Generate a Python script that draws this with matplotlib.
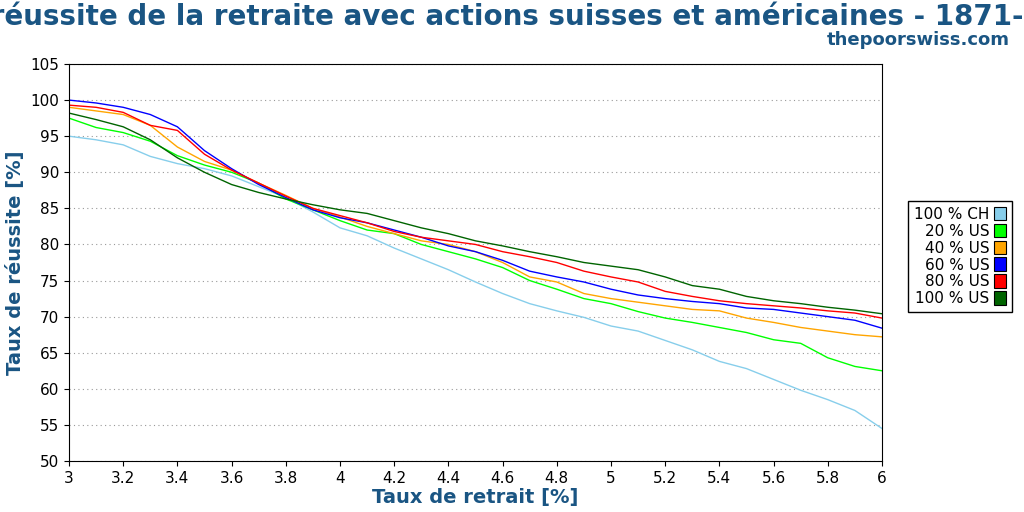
import matplotlib
matplotlib.use("Agg")
import matplotlib.pyplot as plt
import numpy as np
from matplotlib.patches import Patch

x = [round(3 + 0.1*i, 1) for i in range(31)]
ch100 = [95,94.5,93.8,92.2,91.2,90.5,89.5,88,86.5,84.5,82.3,81.2,79.5,78,76.5,74.8,73.2,71.8,70.8,69.9,68.7,68,66.7,65.4,63.8,62.8,61.3,59.8,58.5,57,54.5]
us20 = [97.5,96.2,95.5,94.3,92.3,91,90,88.5,86.3,84.8,83.3,82,81.5,80,79,78,76.8,75,73.8,72.5,71.8,70.7,69.8,69.2,68.5,67.8,66.8,66.3,64.3,63.1,62.5]
us40 = [99,98.5,98,96.5,93.5,91.5,90.3,88.5,86.8,85,83.8,82.5,81.5,80.5,80,79,77.5,75.5,74.8,73.2,72.5,72,71.5,71,70.8,69.8,69.2,68.5,68,67.5,67.2]
us60 = [100,99.6,99,98,96.3,93,90.5,88.3,86.5,84.8,83.7,83,82,81,79.8,79,77.8,76.3,75.5,74.8,73.8,73,72.5,72.1,71.8,71.2,71,70.5,70,69.5,68.4]
us80 = [99.3,99,98.3,96.5,95.8,92.5,90.3,88.5,86.7,85,84,83,81.8,81,80.5,80,79,78.3,77.5,76.3,75.5,74.8,73.5,72.8,72.2,71.8,71.5,71.2,70.8,70.5,69.8]
us100 = [98.2,97.3,96.3,94.5,92,90,88.3,87.2,86.3,85.5,84.8,84.3,83.3,82.3,81.5,80.5,79.8,79,78.3,77.5,77,76.5,75.5,74.3,73.8,72.8,72.2,71.8,71.3,70.9,70.4]
series = [("100 % CH", ch100, "#87ceeb"), ("20 % US", us20, "#00ff00"),
          ("40 % US", us40, "#ffa500"), ("60 % US", us60, "#0000ff"),
          ("80 % US", us80, "#ff0000"), ("100 % US", us100, "#006400")]

blue = "#1a5583"
plt.rcParams["font.family"] = "DejaVu Sans"
fig = plt.figure(figsize=(10.24, 5.12), dpi=100)
ax = fig.add_axes([69/1024, 1-461/512, 813/1024, 397/512])
for lab, y, c in series:
    ax.plot(x, y, color=c, lw=1, label=lab)
ax.set_xlim(3, 6); ax.set_ylim(50, 105)
xt = np.round(np.arange(3, 6.01, 0.2), 1)
ax.set_xticks(xt)
ax.set_xticklabels([f"{v:g}" for v in xt])
ax.set_yticks(range(50, 106, 5))
ax.grid(axis="y", linestyle=(0, (1, 3)), color="#999999", lw=0.8)
ax.tick_params(labelsize=11, direction="out")
ax.set_xlabel("Taux de retrait [%]", fontsize=14, fontweight="bold", color=blue, labelpad=2)
ax.set_ylabel("Taux de réussite [%]", fontsize=14, fontweight="bold", color=blue)
handles = [Patch(facecolor=c, edgecolor="black", lw=0.8) for _, _, c in series]
ax.legend(handles, [s[0] for s in series], loc="upper left", bbox_to_anchor=(1.0225, 0.675),
          markerfirst=False, fontsize=11, fancybox=False, edgecolor="black",
          handlelength=0.8, handleheight=1.0, borderpad=0.4, labelspacing=0.12,
          handletextpad=0.3, framealpha=1)
fig.text(0.47, 1-17/512, "Taux de réussite de la retraite avec actions suisses et américaines - 1871-2020",
         ha="center", va="center", fontsize=20, fontweight="bold", color=blue)
fig.text(1010/1024, 1-40/512, "thepoorswiss.com", ha="right", va="center",
         fontsize=13, fontweight="bold", color=blue)
fig.savefig("out.png", dpi=100)
